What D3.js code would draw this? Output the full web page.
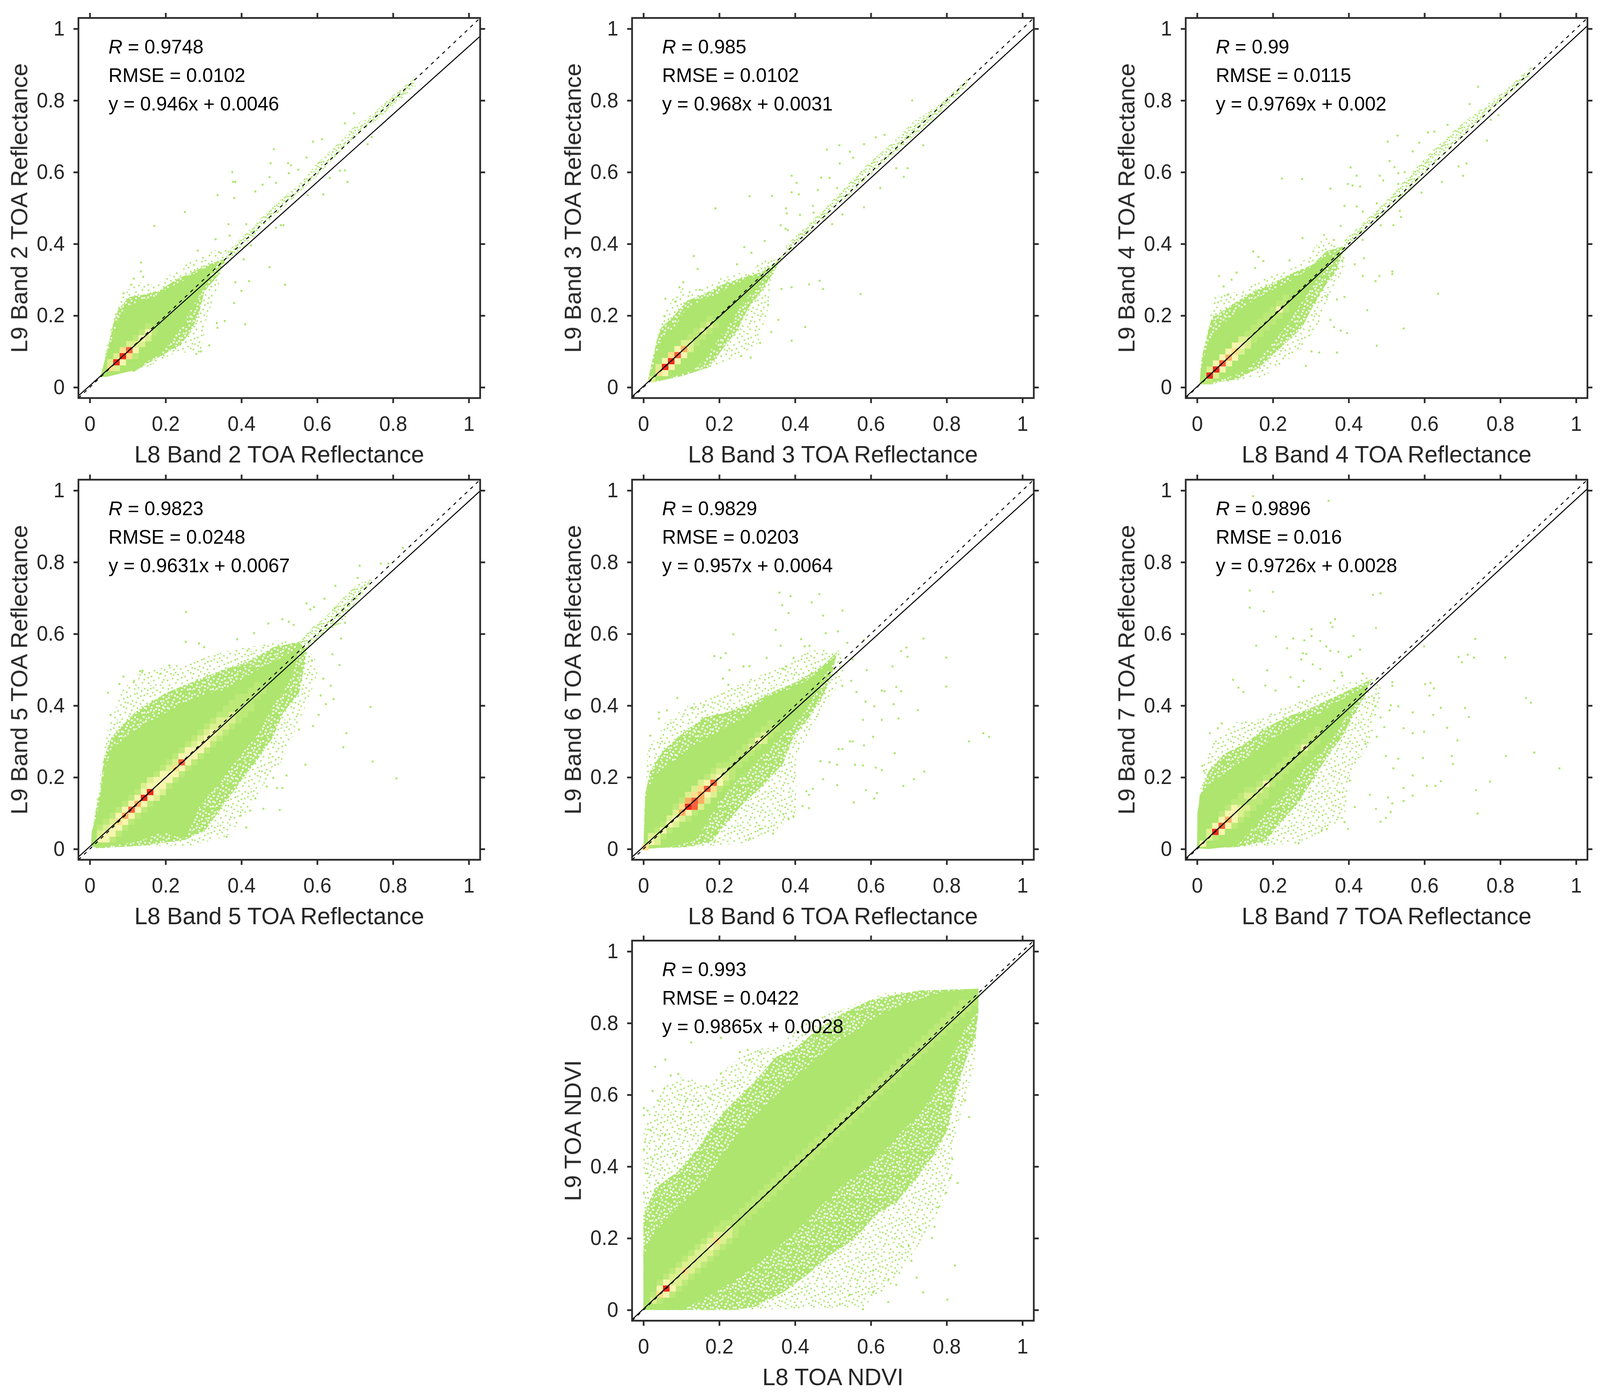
<!DOCTYPE html>
<html>
<head>
<meta charset="utf-8">
<script src="https://d3js.org/d3.v7.min.js"></script>
<style>
  html, body { margin: 0; background: #fff; overflow: hidden; }
  svg { display: block; font-family: "Liberation Sans", Arial, sans-serif; }
</style>
</head>
<body>
<div id="chart"></div>
<script>
// tick labels and panel texts
let tickValues = [0, 0.2, 0.4, 0.6, 0.8, 1];
let xLabels = ["L8 Band 2 TOA Reflectance", "L8 Band 3 TOA Reflectance", "L8 Band 4 TOA Reflectance", "L8 Band 5 TOA Reflectance", "L8 Band 6 TOA Reflectance", "L8 Band 7 TOA Reflectance", "L8 TOA NDVI"];
let yLabels = ["L9 Band 2 TOA Reflectance", "L9 Band 3 TOA Reflectance", "L9 Band 4 TOA Reflectance", "L9 Band 5 TOA Reflectance", "L9 Band 6 TOA Reflectance", "L9 Band 7 TOA Reflectance", "L9 TOA NDVI"];
let rTexts = ["0.9748", "0.985", "0.99", "0.9823", "0.9829", "0.9896", "0.993"];
let rmseTexts = ["0.0102", "0.0102", "0.0115", "0.0248", "0.0203", "0.016", "0.0422"];
let slopes = ["0.946", "0.968", "0.9769", "0.9631", "0.957", "0.9726", "0.9865"];
let intercepts = ["0.0046", "0.0031", "0.002", "0.0067", "0.0064", "0.0028", "0.0028"];

// Band 2: solid cloud, speckled cloud, thin tail, sparse edge, single points
let b2Core = [[.028,.029],[.038,.07],[.055,.124],[.072,.171],[.082,.208],[.102,.225],[.133,.242],[.173,.252],[.204,.276],[.241,.293],[.268,.313],[.302,.33],[.325,.345],[.335,.34],[.318,.313],[.295,.266],[.271,.225],[.247,.178],[.22,.137],[.187,.093],[.153,.073],[.122,.049],[.092,.041],[.045,.029]];
let b2Halo = [[.038,.07],[.05,.124],[.062,.178],[.075,.218],[.105,.252],[.146,.259],[.187,.272],[.227,.3],[.268,.32],[.315,.343],[.36,.36],[.339,.313],[.302,.266],[.288,.205],[.268,.158],[.241,.12],[.193,.09],[.146,.063],[.116,.043]];
let b2Tail = [[.36,.375],[.45,.47],[.5,.52],[.56,.575],[.6,.625],[.65,.675],[.7,.73],[.75,.765],[.8,.815],[.86,.865],[.86,.84],[.8,.785],[.75,.74],[.7,.7],[.65,.645],[.6,.59],[.55,.54],[.5,.49],[.45,.44],[.36,.34]];
let b2Fringe = [[.028,.029],[.058,.185],[.092,.266],[.133,.293],[.173,.286],[.268,.354],[.329,.381],[.376,.387],[.349,.313],[.308,.192],[.295,.097],[.227,.097],[.139,.05]];
let b2Dots = [[.251,.489],[.17,.45],[.337,.536],[.376,.6],[.378,.573],[.384,.573],[.381,.528],[.437,.546],[.456,.565],[.477,.625],[.486,.664],[.474,.586],[.491,.57],[.523,.625],[.531,.619],[.525,.597],[.55,.607],[.572,.641],[.589,.685],[.613,.692],[.673,.736],[.697,.764],[.733,.678],[.744,.698],[.68,.573],[.673,.605],[.616,.538],[.633,.584],[.66,.604],[.575,.536],[.511,.452],[.504,.452],[.491,.445],[.425,.396],[.406,.357],[.366,.455],[.369,.423],[.413,.455],[.332,.413],[.285,.381],[.341,.377],[.474,.335],[.515,.286],[.42,.296],[.384,.293],[.4,.269],[.381,.235],[.356,.185],[.41,.176],[.335,.179],[.337,.166],[.315,.117],[.293,.1],[.281,.093],[.135,.348],[.135,.323],[.116,.303],[.141,.308],[.109,.286],[.089,.262]];
// density cells along the diagonal: centre, level, level one bin above, one below, two above, two below
let b2Band = [[.054,4,2,2,0,0],[.07,7,2,3,0,0],[.087,7,4,4,0,1],[.104,6,2,3,0,0],[.121,2,1,2,0,0],[.137,3,1,2,0,0],[.154,3,1,1,0,0]];

let b3Core = [[.012,.022],[.024,.056],[.038,.103],[.055,.144],[.085,.171],[.112,.218],[.146,.239],[.193,.259],[.234,.283],[.275,.303],[.302,.31],[.308,.293],[.288,.266],[.254,.225],[.234,.185],[.2,.137],[.16,.076],[.133,.049],[.092,.036],[.051,.022],[.024,.017]];
let b3Halo = [[.012,.022],[.035,.13],[.045,.164],[.085,.205],[.116,.242],[.159,.259],[.207,.286],[.254,.303],[.308,.32],[.349,.347],[.376,.38],[.339,.313],[.313,.27],[.275,.218],[.247,.158],[.207,.104],[.173,.056],[.105,.032],[.031,.015]];
let b3Tail = [[.376,.395],[.457,.478],[.511,.535],[.579,.61],[.646,.672],[.714,.742],[.782,.79],[.856,.862],[.856,.845],[.782,.765],[.714,.7],[.646,.638],[.579,.572],[.511,.505],[.457,.452],[.376,.365]];
let b3Fringe = [[.012,.022],[.038,.151],[.055,.205],[.095,.279],[.153,.272],[.207,.306],[.288,.327],[.322,.364],[.359,.354],[.335,.286],[.329,.218],[.302,.124],[.261,.087],[.16,.05]];
let b3Dots = [[.133,.366],[.143,.33],[.095,.279],[.105,.293],[.149,.272],[.19,.499],[.28,.533],[.339,.534],[.391,.59],[.404,.57],[.391,.544],[.41,.538],[.376,.499],[.378,.485],[.447,.506],[.449,.487],[.413,.481],[.362,.452],[.375,.442],[.381,.438],[.469,.585],[.46,.55],[.484,.663],[.517,.675],[.518,.624],[.545,.657],[.553,.64],[.511,.556],[.491,.584],[.582,.678],[.613,.697],[.636,.704],[.709,.8],[.738,.675],[.687,.587],[.697,.611],[.667,.611],[.582,.502],[.625,.556],[.498,.455],[.525,.482],[.32,.408],[.285,.375],[.266,.391],[.247,.343],[.474,.274],[.573,.26],[.465,.297],[.437,.287],[.391,.279],[.364,.274],[.427,.168],[.391,.13],[.356,.188],[.337,.154],[.329,.229],[.308,.124],[.283,.083],[.258,.087],[.058,.247],[.055,.198],[.085,.239]];
let b3Band = [[.023,2,0,0,0,0],[.04,4,2,3,0,0],[.057,7,3,3,0,0],[.073,7,4,3,0,0],[.09,6,3,3,0,0],[.107,5,2,2,0,0],[.124,2,1,1,0,0],[.14,1,1,1,0,0],[.157,2,1,1,0,0],[.174,2,1,1,0,0]];

let b4Core = [[.007,.016],[.014,.07],[.031,.124],[.051,.158],[.105,.212],[.153,.245],[.2,.272],[.241,.293],[.281,.32],[.322,.354],[.349,.37],[.362,.364],[.335,.327],[.308,.286],[.268,.225],[.241,.178],[.2,.124],[.153,.07],[.105,.036],[.051,.016],[.011,.009]];
let b4Halo = [[.007,.016],[.012,.083],[.028,.151],[.038,.192],[.085,.226],[.146,.266],[.2,.29],[.254,.32],[.302,.34],[.342,.38],[.389,.395],[.369,.327],[.335,.279],[.302,.218],[.275,.164],[.22,.11],[.166,.056],[.105,.022],[.018,.009]];
let b4Tail = [[.389,.411],[.444,.465],[.504,.526],[.565,.597],[.619,.658],[.687,.725],[.748,.776],[.815,.83],[.886,.898],[.876,.867],[.815,.81],[.761,.759],[.694,.692],[.633,.631],[.572,.563],[.511,.496],[.444,.435],[.389,.377]];
let b4Fringe = [[.007,.016],[.028,.171],[.045,.252],[.105,.266],[.153,.293],[.241,.327],[.281,.354],[.335,.421],[.389,.387],[.389,.333],[.349,.259],[.322,.178],[.268,.097],[.173,.029],[.038,.009]];
let b4Dots = [[.058,.31],[.104,.32],[.091,.3],[.07,.281],[.082,.259],[.153,.333],[.148,.379],[.162,.364],[.175,.352],[.244,.354],[.278,.416],[.335,.425],[.361,.411],[.224,.582],[.277,.581],[.352,.554],[.398,.567],[.41,.563],[.43,.56],[.405,.613],[.421,.59],[.379,.45],[.389,.506],[.421,.504],[.437,.49],[.503,.685],[.529,.702],[.508,.631],[.521,.614],[.531,.597],[.548,.6],[.482,.59],[.491,.577],[.474,.513],[.531,.567],[.592,.543],[.569,.658],[.586,.682],[.609,.711],[.626,.713],[.661,.732],[.719,.79],[.741,.838],[.765,.688],[.711,.624],[.69,.616],[.702,.59],[.646,.573],[.795,.759],[.775,.746],[.535,.492],[.518,.452],[.485,.452],[.538,.475],[.437,.411],[.515,.323],[.515,.316],[.471,.296],[.437,.31],[.481,.31],[.636,.261],[.545,.164],[.449,.215],[.474,.116],[.396,.151],[.379,.158],[.361,.168],[.342,.252],[.369,.245],[.389,.252],[.352,.188],[.369,.097],[.322,.097],[.302,.1],[.287,.06],[.44,.36],[.416,.343],[.383,.354]];
let b4Band = [[.017,1,0,1,0,0],[.033,7,2,2,0,0],[.05,7,3,3,0,0],[.067,6,3,3,0,0],[.083,5,3,3,0,0],[.1,4,3,2,0,0],[.117,3,2,2,0,0],[.133,2,1,1,0,0],[.15,1,1,1,0,0],[.167,1,1,1,0,0],[.183,1,1,1,0,0],[.2,1,1,1,0,0],[.217,3,1,1,0,0],[.233,1,1,0,0,0]];

let b5Core = [[.003,.009],[.005,.049],[.018,.09],[.028,.151],[.038,.218],[.058,.279],[.112,.327],[.166,.36],[.241,.404],[.295,.428],[.349,.442],[.403,.475],[.457,.509],[.511,.536],[.552,.563],[.542,.509],[.525,.462],[.484,.401],[.444,.32],[.389,.252],[.342,.185],[.288,.117],[.254,.032],[.22,.036],[.193,.049],[.133,.022],[.058,.009],[.018,.004]];
let b5Halo = [[.003,.009],[.011,.083],[.028,.171],[.038,.259],[.058,.313],[.119,.381],[.2,.435],[.308,.482],[.43,.529],[.484,.563],[.552,.577],[.572,.556],[.565,.502],[.552,.435],[.511,.381],[.484,.313],[.444,.252],[.396,.185],[.349,.117],[.308,.056],[.254,.026],[.139,.009],[.018,.002]];
let b5Tail = [[.552,.577],[.579,.611],[.619,.644],[.673,.705],[.707,.739],[.744,.756],[.734,.732],[.694,.678],[.667,.631],[.619,.604],[.572,.556]];
let b5Fringe = [[.003,.009],[.024,.185],[.045,.327],[.085,.442],[.132,.495],[.214,.509],[.376,.556],[.457,.57],[.511,.584],[.565,.577],[.606,.509],[.579,.421],[.552,.354],[.504,.239],[.457,.178],[.403,.083],[.362,.036],[.268,.009]];
let b5Dots = [[.048,.436],[.055,.374],[.078,.46],[.089,.481],[.116,.465],[.133,.496],[.139,.497],[.187,.489],[.21,.512],[.254,.661],[.253,.578],[.288,.573],[.302,.563],[.389,.585],[.416,.553],[.433,.602],[.471,.629],[.508,.641],[.525,.634],[.538,.625],[.572,.685],[.619,.698],[.648,.734],[.707,.756],[.712,.79],[.768,.796],[.788,.796],[.826,.84],[.592,.675],[.582,.668],[.646,.671],[.673,.631],[.663,.587],[.64,.543],[.586,.526],[.659,.513],[.636,.455],[.616,.475],[.609,.428],[.643,.418],[.623,.404],[.741,.396],[.677,.323],[.669,.284],[.746,.244],[.809,.197],[.604,.374],[.589,.343],[.569,.235],[.552,.333],[.519,.205],[.508,.17],[.494,.17],[.501,.109],[.458,.112],[.423,.107],[.413,.06],[.398,.093],[.361,.034],[.467,.174],[.484,.198],[.437,.141]];
let b5Band = [[.027,3,2,3,1,1],[.043,3,2,3,1,1],[.06,3,2,3,1,1],[.076,4,3,3,1,1],[.093,5,3,3,1,1],[.11,6,3,3,1,1],[.126,5,3,3,1,1],[.143,7,3,3,2,2],[.159,7,3,3,2,2],[.176,3,3,3,1,1],[.193,3,3,3,1,1],[.209,3,2,3,1,1],[.226,4,2,3,1,1],[.242,6,3,3,1,1],[.259,3,3,3,1,1],[.276,3,2,3,1,1],[.292,3,2,3,1,1],[.309,3,2,2,1,1],[.325,3,2,2,1,1],[.342,2,2,2,1,1],[.359,2,1,2,1,1],[.375,2,1,1,1,1],[.392,1,1,1,1,1],[.408,1,1,1,0,0],[.425,1,1,1,0,0],[.441,1,1,1,0,0]];

let b6Core = [[0,.002],[.003,.083],[.007,.151],[.028,.205],[.072,.239],[.119,.279],[.173,.313],[.22,.34],[.268,.367],[.322,.421],[.376,.442],[.43,.469],[.471,.502],[.511,.543],[.484,.496],[.457,.442],[.43,.387],[.389,.34],[.342,.293],[.295,.239],[.254,.198],[.2,.137],[.166,.07],[.133,.022],[.065,.005],[.004,0]];
let b6Halo = [[0,.002],[.004,.151],[.018,.218],[.051,.272],[.099,.32],[.16,.367],[.22,.381],[.288,.408],[.349,.442],[.41,.469],[.471,.509],[.511,.55],[.498,.489],[.471,.421],[.437,.367],[.396,.313],[.369,.239],[.322,.185],[.261,.124],[.227,.083],[.18,.022],[.119,.005]];
let b6Tail = [];
let b6Fringe = [[0,.002],[.011,.286],[.038,.313],[.058,.354],[.119,.401],[.207,.435],[.268,.469],[.369,.509],[.444,.556],[.518,.556],[.531,.482],[.491,.421],[.457,.354],[.403,.266],[.403,.097],[.349,.049],[.261,.016],[.187,.009]];
let b6Dots = [[.018,.316],[.041,.381],[.041,.364],[.062,.387],[.089,.421],[.129,.394],[.16,.401],[.187,.538],[.204,.533],[.217,.546],[.237,.599],[.21,.475],[.224,.458],[.227,.499],[.264,.509],[.28,.51],[.325,.533],[.349,.611],[.359,.715],[.388,.705],[.366,.68],[.383,.658],[.444,.688],[.464,.711],[.474,.651],[.525,.665],[.481,.602],[.513,.607],[.416,.585],[.362,.567],[.396,.533],[.369,.502],[.376,.509],[.425,.565],[.438,.567],[.538,.575],[.582,.583],[.552,.529],[.589,.499],[.657,.509],[.667,.452],[.68,.44],[.697,.536],[.68,.552],[.694,.562],[.739,.587],[.799,.534],[.799,.453],[.629,.442],[.636,.44],[.586,.411],[.609,.398],[.66,.404],[.562,.438],[.525,.455],[.548,.469],[.552,.3],[.579,.36],[.629,.36],[.673,.364],[.724,.387],[.663,.267],[.606,.313],[.582,.289],[.545,.3],[.525,.279],[.515,.279],[.491,.242],[.511,.235],[.467,.245],[.558,.235],[.579,.233],[.613,.227],[.629,.22],[.741,.216],[.714,.195],[.686,.176],[.511,.178],[.474,.195],[.447,.168],[.43,.161],[.437,.151],[.587,.164],[.616,.156],[.609,.141],[.555,.13],[.437,.114],[.42,.12],[.859,.3],[.897,.323],[.912,.313],[.396,.09],[.383,.083],[.369,.097],[.308,.056],[.281,.029],[.342,.043],[.187,.019]];
let b6Band = [[.005,4,0,0,0,0],[.02,3,2,2,0,0],[.036,2,1,1,0,0],[.052,3,1,1,0,0],[.069,3,2,2,0,0],[.085,3,2,2,1,1],[.102,5,4,3,1,1],[.118,7,5,6,2,2],[.135,6,4,5,2,2],[.152,5,4,3,2,2],[.168,6,3,4,1,1],[.185,6,2,3,1,1],[.2,3,2,2,1,1],[.218,2,1,1,0,0],[.235,1,1,1,0,0],[.252,1,1,1,0,0],[.268,1,1,1,0,0],[.285,2,1,1,0,0],[.302,3,1,2,0,0],[.318,2,1,1,0,0],[.335,1,1,1,0,0]];

let b7Core = [[0,.002],[.001,.083],[.007,.151],[.038,.185],[.092,.225],[.153,.272],[.207,.313],[.261,.347],[.329,.381],[.376,.414],[.43,.442],[.454,.462],[.437,.435],[.403,.387],[.369,.327],[.335,.279],[.295,.239],[.254,.191],[.22,.144],[.173,.09],[.105,.009],[.031,0]];
let b7Halo = [[0,.002],[.001,.103],[.011,.158],[.031,.218],[.072,.266],[.126,.293],[.173,.333],[.234,.367],[.302,.394],[.356,.421],[.41,.448],[.457,.472],[.444,.428],[.41,.367],[.383,.313],[.349,.266],[.308,.198],[.268,.13],[.227,.083],[.18,.022],[.105,.005]];
let b7Tail = [];
let b7Fringe = [[0,.002],[.011,.205],[.021,.252],[.045,.306],[.105,.354],[.173,.367],[.254,.408],[.349,.442],[.444,.482],[.491,.469],[.477,.381],[.457,.299],[.403,.205],[.389,.083],[.322,.043],[.261,.016],[.18,.009]];
let b7Dots = [[.148,.984],[.347,.971],[.139,.721],[.2,.717],[.139,.673],[.176,.663],[.464,.709],[.484,.713],[.364,.641],[.352,.631],[.357,.619],[.472,.617],[.302,.613],[.302,.594],[.208,.592],[.254,.587],[.283,.582],[.325,.58],[.156,.567],[.237,.56],[.341,.565],[.413,.594],[.43,.556],[.352,.553],[.373,.55],[.279,.546],[.288,.544],[.275,.529],[.4,.535],[.406,.538],[.305,.515],[.325,.502],[.381,.492],[.383,.483],[.185,.498],[.247,.479],[.281,.469],[.095,.472],[.109,.45],[.122,.438],[.18,.456],[.207,.442],[.268,.452],[.362,.469],[.437,.489],[.515,.465],[.515,.455],[.599,.565],[.734,.586],[.69,.536],[.714,.542],[.699,.521],[.731,.534],[.813,.534],[.616,.463],[.602,.46],[.625,.448],[.613,.428],[.868,.421],[.881,.408],[.643,.394],[.569,.381],[.707,.393],[.623,.374],[.531,.398],[.511,.401],[.508,.387],[.484,.367],[.467,.421],[.471,.398],[.717,.368],[.66,.338],[.569,.323],[.545,.337],[.599,.327],[.494,.34],[.474,.313],[.687,.303],[.89,.269],[.815,.259],[.672,.259],[.675,.237],[.596,.254],[.956,.225],[.569,.205],[.531,.252],[.518,.225],[.498,.259],[.444,.293],[.773,.188],[.643,.189],[.629,.176],[.606,.176],[.545,.17],[.736,.164],[.515,.127],[.569,.149],[.545,.134],[.504,.144],[.472,.112],[.456,.151],[.389,.075],[.398,.056],[.74,.099],[.511,.103],[.484,.076],[.498,.087],[.342,.056],[.329,.053],[.268,.016],[.187,.016],[.416,.117],[.376,.158],[.403,.191],[.018,.218],[.014,.232],[.065,.35],[.055,.337],[.034,.323]];
let b7Band = [[.015,3,0,0,0,0],[.032,2,2,1,0,0],[.048,7,3,3,0,0],[.065,6,3,3,1,1],[.082,5,3,3,1,1],[.098,3,3,2,1,1],[.115,2,1,2,1,1],[.132,1,2,1,1,1],[.148,2,1,1,0,1],[.165,2,1,1,0,0],[.182,3,1,1,0,0],[.2,1,1,1,0,0],[.217,1,1,1,0,0],[.233,1,1,1,0,0],[.25,1,1,1,0,0],[.267,1,1,1,0,0],[.283,3,1,1,0,0],[.3,1,1,1,0,0],[.317,1,1,0,0,0]];

let ndviCore = [[0,0],[0,.151],[.024,.205],[.058,.252],[.105,.3],[.16,.354],[.2,.421],[.241,.475],[.288,.536],[.349,.597],[.403,.651],[.457,.698],[.504,.746],[.552,.773],[.619,.82],[.687,.854],[.748,.874],[.795,.888],[.883,.895],[.883,.834],[.863,.807],[.842,.773],[.822,.732],[.802,.678],[.782,.638],[.748,.577],[.714,.53],[.673,.489],[.633,.441],[.579,.387],[.531,.354],[.484,.306],[.444,.266],[.403,.218],[.349,.171],[.295,.124],[.241,.083],[.187,.049],[.139,.022],[.105,0]];
let ndviHalo = [[0,.266],[.031,.34],[.092,.387],[.146,.455],[.193,.53],[.241,.584],[.288,.631],[.349,.705],[.403,.732],[.457,.78],[.525,.827],[.592,.861],[.66,.878],[.728,.891],[.884,.896],[.884,.834],[.876,.759],[.849,.692],[.822,.597],[.802,.503],[.768,.435],[.721,.367],[.667,.3],[.613,.266],[.558,.198],[.498,.157],[.43,.096],[.369,.049],[.295,.009],[.241,0],[0,0]];
let ndviTail = [];
let ndviFringe = [[0,.489],[.018,.557],[.058,.625],[.105,.652],[.173,.624],[.207,.665],[.281,.726],[.356,.733],[.43,.807],[.511,.834],[.578,.861],[.646,.885],[.883,.895],[.876,.692],[.849,.591],[.815,.461],[.815,.367],[.768,.251],[.714,.163],[.667,.083],[.579,.009],[.308,0],[0,0]];
let ndviDots = [[.001,.563],[.001,.543],[.011,.556],[.024,.611],[.038,.584],[.058,.698],[.031,.678],[.092,.658],[.072,.654],[.055,.617],[.112,.584],[.112,.502],[.099,.536],[.146,.57],[.166,.624],[.176,.59],[.126,.746],[.204,.659],[.204,.759],[.275,.725],[.281,.698],[.254,.719],[.308,.719],[.349,.698],[.207,.631],[.241,.624],[.018,.502],[.004,.469],[.001,.448],[.024,.421],[.045,.455],[.058,.489],[.085,.435],[.011,.381],[.038,.354],[.001,.327],[.849,.584],[.859,.538],[.809,.489],[.815,.421],[.809,.367],[.829,.354],[.778,.286],[.799,.327],[.761,.201],[.822,.124],[.738,.049],[.802,.029],[.721,.09],[.68,.178],[.646,.083],[.646,.022],[.667,.07],[.606,.11],[.579,.002],[.606,.049],[.707,.137],[.768,.232],[.728,.225],[.7,.178],[.545,.043],[.565,.083],[.518,.016],[.883,.874]];
let ndviBand = [[.026,2,1,1,0,0],[.043,4,3,3,1,1],[.06,7,3,3,1,1],[.076,2,2,2,1,1],[.093,2,2,2,1,1],[.11,4,2,2,1,1],[.126,2,2,2,1,1],[.143,2,2,2,1,1],[.159,2,2,2,1,1],[.176,3,2,2,1,1],[.193,4,2,2,1,1],[.209,2,1,2,1,1],[.226,2,1,1,0,0],[.243,1,1,1,0,0],[.26,1,1,1,0,0],[.276,1,1,1,0,0],[.293,1,1,1,0,0],[.31,1,1,1,0,0],[.326,1,1,1,0,0],[.343,1,1,1,0,0],[.359,1,1,1,0,0],[.376,1,1,1,0,0],[.392,1,1,1,0,0],[.409,1,1,1,0,0],[.426,1,1,1,0,0],[.442,1,1,1,0,0],[.459,1,1,1,0,0],[.475,1,1,1,0,0],[.492,1,1,1,0,0],[.509,1,1,1,0,0],[.525,1,1,1,0,0],[.542,1,1,1,0,0],[.558,1,1,1,0,0],[.575,1,1,1,0,0],[.592,1,1,1,0,0],[.608,1,1,1,0,0],[.625,1,1,1,0,0],[.641,1,1,1,0,0],[.658,1,1,1,0,0],[.675,1,1,1,0,0],[.691,1,1,1,0,0],[.708,1,1,1,0,0],[.724,1,1,1,0,0],[.741,1,1,1,0,0],[.758,1,1,1,0,0],[.774,1,1,1,0,0],[.791,1,1,1,0,0],[.807,1,1,1,0,0],[.824,1,1,1,0,0],[.84,1,1,1,0,0],[.857,1,0,1,0,0]];

let coreLists = [b2Core, b3Core, b4Core, b5Core, b6Core, b7Core, ndviCore];
let haloLists = [b2Halo, b3Halo, b4Halo, b5Halo, b6Halo, b7Halo, ndviHalo];
let tailLists = [b2Tail, b3Tail, b4Tail, b5Tail, b6Tail, b7Tail, ndviTail];
let fringeLists = [b2Fringe, b3Fringe, b4Fringe, b5Fringe, b6Fringe, b7Fringe, ndviFringe];
let dotLists = [b2Dots, b3Dots, b4Dots, b5Dots, b6Dots, b7Dots, ndviDots];
let bandLists = [b2Band, b3Band, b4Band, b5Band, b6Band, b7Band, ndviBand];

// layout of the figure
let width = 4202,
  height = 3584,
  panelWidth = 1055,
  panelHeight = 973,
  panelLefts = [206, 1660, 3114, 206, 1660, 3114, 1660],
  panelTops = [46, 46, 46, 1228, 1228, 1228, 2408],
  binSize = 0.0166;

let green = "#ade56e";
let levelColors = ["none", "#bce977", "#dcf090", "#f6f6ae", "#fddf8c", "#fdae62", "#f7613a", "#ef2a1c"];

// scale the drawing to whatever window it gets
let svg = d3
  .select("#chart")
  .append("svg")
  .attr("viewBox", "0 0 " + width + " " + height)
  .attr("preserveAspectRatio", "none")
  .style("width", "100vw")
  .style("height", "100vh")
  .style("background", "#fff");

let defs = svg.append("defs");

// the reference is soft, blur each panel a little
let soften = defs
  .append("filter")
  .attr("id", "soften")
  .attr("filterUnits", "userSpaceOnUse")
  .attr("x", -200)
  .attr("y", -40)
  .attr("width", 1320)
  .attr("height", 1240);
soften.append("feGaussianBlur").attr("stdDeviation", 0.7);

// speckle textures for the cloud edges
function addPattern(id, size, back, specks, speckSize, speckColor) {
  let pattern = defs
    .append("pattern")
    .attr("id", id)
    .attr("patternUnits", "userSpaceOnUse")
    .attr("width", size)
    .attr("height", size);
  if (back) pattern.append("rect").attr("width", size).attr("height", size).attr("fill", back);
  pattern
    .selectAll("rect.speck")
    .data(specks)
    .enter()
    .append("rect")
    .attr("class", "speck")
    .attr("x", (d) => d[0])
    .attr("y", (d) => d[1])
    .attr("width", speckSize)
    .attr("height", speckSize)
    .attr("fill", speckColor);
}
addPattern("haloFill", 60, green, [[3,7],[17,2],[33,11],[49,5],[9,21],[25,18],[41,24],[55,16],[2,35],[15,31],[30,37],[46,34],[57,44],[8,48],[22,45],[37,50],[51,54],[14,57],[29,56],[43,43],[11,11],[26,6],[41,14],[57,9],[18,14],[34,25],[49,19],[5,28],[22,27],[38,31],[53,27],[10,40],[24,37],[40,40],[52,42],[1,53],[16,49],[30,47],[45,55],[58,57]], 4.5, "#fff");
addPattern("fringeFill", 88, null, [[4,9],[19,3],[37,14],[58,6],[76,11],[11,25],[29,31],[47,24],[66,29],[83,22],[2,43],[22,47],[40,41],[55,50],[73,44],[14,62],[33,66],[50,60],[69,67],[84,57],[6,79],[25,83],[43,76],[61,84],[78,78],[17,15],[52,36],[36,55],[64,17],[8,53],[80,35],[46,70],[12,5],[28,9],[44,3],[68,3],[84,5],[3,18],[23,21],[39,27],[58,19],[74,24],[16,36],[33,40],[48,45],[62,40],[77,52],[5,65],[20,72],[38,85],[56,72],[72,58],[83,70],[12,86],[29,52],[65,55]], 4, green);
addPattern("tailFill", 44, null, [[2,4],[11,1],[20,7],[31,3],[39,9],[6,13],[15,16],[26,14],[35,18],[1,23],[11,26],[21,22],[30,27],[40,25],[6,33],[16,36],[25,32],[35,37],[3,41],[20,41],[29,40],[11,18],[24,38],[40,33],[7,8],[16,10],[25,1],[36,12],[1,14],[20,15],[30,21],[6,24],[16,29],[39,41],[12,41],[34,28]], 4, green);

coreLists.forEach((core, i) => {
  let xScale = d3.scaleLinear().domain([-0.03, 1.03]).range([0, panelWidth]);
  let yScale = d3.scaleLinear().domain([-0.03, 1.03]).range([panelHeight, 0]);
  let toPath = d3
    .line()
    .x((d) => xScale(d[0]))
    .y((d) => yScale(d[1]));

  let panel = svg
    .append("g")
    .attr("transform", "translate(" + panelLefts[i] + "," + panelTops[i] + ")")
    .attr("filter", "url(#soften)");

  let clipId = "clip" + i;
  defs
    .append("clipPath")
    .attr("id", clipId)
    .append("rect")
    .attr("width", panelWidth)
    .attr("height", panelHeight);

  let plot = panel.append("g").attr("clip-path", "url(#" + clipId + ")");

  // clouds, from the sparse edge to the solid middle
  plot.append("path").attr("d", toPath(fringeLists[i]) + "Z").attr("fill", "url(#fringeFill)");
  plot.append("path").attr("d", toPath(haloLists[i]) + "Z").attr("fill", "url(#haloFill)");
  if (tailLists[i].length) {
    plot.append("path").attr("d", toPath(tailLists[i]) + "Z").attr("fill", "url(#tailFill)");
  }
  plot.append("path").attr("d", toPath(core) + "Z").attr("fill", green);

  // single points
  plot
    .selectAll("rect.dot")
    .data(dotLists[i])
    .enter()
    .append("rect")
    .attr("class", "dot")
    .attr("x", (d) => xScale(d[0]) - 2.5)
    .attr("y", (d) => yScale(d[1]) - 2.5)
    .attr("width", 5)
    .attr("height", 5)
    .attr("fill", green);

  // density cells
  let cells = [];
  bandLists[i].forEach((row) => {
    let v = row[0];
    cells.push([v, v, row[1]]);
    cells.push([v, v + binSize, row[2]]);
    cells.push([v + binSize, v, row[3]]);
    cells.push([v, v + 2 * binSize, row[4]]);
    cells.push([v + 2 * binSize, v, row[5]]);
  });
  cells = cells.filter((d) => d[2] > 0).sort((a, b) => a[2] - b[2]);
  let cellW = xScale(binSize) - xScale(0),
    cellH = yScale(0) - yScale(binSize);
  plot
    .selectAll("rect.cell")
    .data(cells)
    .enter()
    .append("rect")
    .attr("class", "cell")
    .attr("x", (d) => xScale(d[0]) - cellW / 2)
    .attr("y", (d) => yScale(d[1]) - cellH / 2)
    .attr("width", cellW + 0.5)
    .attr("height", cellH + 0.5)
    .attr("fill", (d) => levelColors[d[2]]);

  // 1:1 line and fitted line
  let ends = [-0.03, 1.03];
  plot
    .append("path")
    .attr("d", toPath(ends.map((x) => [x, x])))
    .attr("fill", "none")
    .attr("stroke", "#000")
    .attr("stroke-width", 2.4)
    .attr("stroke-dasharray", "9,11");
  plot
    .append("path")
    .attr("d", toPath(ends.map((x) => [x, +slopes[i] * x + +intercepts[i]])))
    .attr("fill", "none")
    .attr("stroke", "#000")
    .attr("stroke-width", 2.6);

  // frame
  panel
    .append("rect")
    .attr("width", panelWidth)
    .attr("height", panelHeight)
    .attr("fill", "none")
    .attr("stroke", "#2b2b2b")
    .attr("stroke-width", 4.5);

  // axes, ticks on all four sides
  let xBottom = d3.axisBottom(xScale).tickValues(tickValues).tickSize(13).tickPadding(33).tickFormat((d) => d);
  let yLeft = d3.axisLeft(yScale).tickValues(tickValues).tickSize(13).tickPadding(23).tickFormat((d) => d);
  let xTop = d3.axisTop(xScale).tickValues(tickValues).tickSize(13).tickFormat("");
  let yRight = d3.axisRight(yScale).tickValues(tickValues).tickSize(13).tickFormat("");

  [
    panel.append("g").attr("transform", "translate(0," + panelHeight + ")").call(xBottom),
    panel.append("g").call(yLeft),
    panel.append("g").call(xTop),
    panel.append("g").attr("transform", "translate(" + panelWidth + ",0)").call(yRight),
  ].forEach((axis) => {
    axis.select(".domain").remove();
    axis.selectAll("line").attr("stroke", "#2b2b2b").attr("stroke-width", 4.5);
    axis
      .selectAll("text")
      .attr("fill", "#262626")
      .style("font-size", "53px")
      .style("font-family", '"Liberation Sans", Arial, sans-serif');
  });

  // axis labels
  panel
    .append("text")
    .attr("x", panelWidth / 2)
    .attr("y", panelHeight + 165)
    .attr("text-anchor", "middle")
    .attr("font-size", 61.6)
    .attr("fill", "#262626")
    .text(xLabels[i]);
  panel
    .append("text")
    .attr("transform", "translate(-135," + panelHeight / 2 + ") rotate(-90)")
    .attr("text-anchor", "middle")
    .attr("font-size", 60)
    .attr("fill", "#262626")
    .text(yLabels[i]);

  // statistics in the corner
  let rLine = panel.append("text").attr("x", 79).attr("y", 91).attr("font-size", 50.7).attr("fill", "#000");
  rLine.append("tspan").attr("font-style", "italic").text("R");
  rLine.append("tspan").text(" = " + rTexts[i]);
  panel
    .append("text")
    .attr("x", 79)
    .attr("y", 164)
    .attr("font-size", 50.7)
    .attr("fill", "#000")
    .text("RMSE = " + rmseTexts[i]);
  panel
    .append("text")
    .attr("x", 79)
    .attr("y", 237)
    .attr("font-size", 50.7)
    .attr("fill", "#000")
    .text("y = " + slopes[i] + "x + " + intercepts[i]);
});
</script>
</body>
</html>
